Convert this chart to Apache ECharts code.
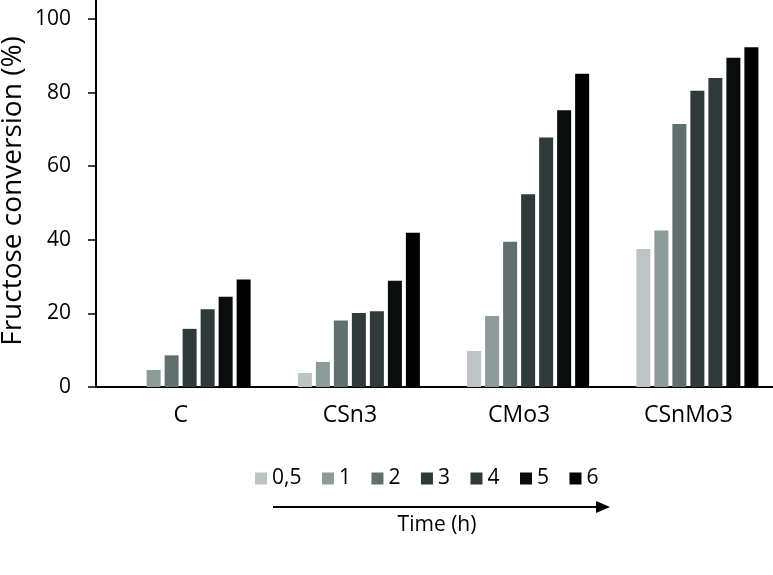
<!DOCTYPE html>
<html>
<head>
<meta charset="utf-8">
<script src="https://cdn.jsdelivr.net/npm/echarts@6/dist/echarts.min.js"></script>
<style>
html,body{margin:0;padding:0;background:#fff;}
#chart{width:773px;height:575px;}
</style>
</head>
<body>
<div id="chart"></div>
<script>
const categories = ['C', 'CSn3', 'CMo3', 'CSnMo3'];
const seriesNames = ['0,5', '1', '2', '3', '4', '5', '6'];
const s05 = [0, 3.8, 9.8, 37.5];
const s1 = [4.6, 6.8, 19.3, 42.5];
const s2 = [8.6, 18.1, 39.5, 71.5];
const s3 = [15.8, 20.1, 52.4, 80.5];
const s4 = [21.1, 20.6, 67.8, 84.0];
const s5 = [24.5, 28.9, 75.2, 89.5];
const s6 = [29.2, 41.9, 85.1, 92.3];
const s0 = [0, 0, 0, 0]; // empty leading series (t = 0)
const yTicks = [0, 20, 40, 60, 80, 100];

const colors = ['#bcc5c3', '#8c9a98', '#5f706f', '#2e3b3a', '#2e3b3a', '#0a0d0b', '#000000'];
const values = [s05, s1, s2, s3, s4, s5, s6];
const FONT = 'Open Sans';

const series = [{
  name: '0', type: 'bar', data: s0, barWidth: 14, barGap: '28.6%',
  itemStyle: { color: 'rgba(0,0,0,0)' }, silent: true
}].concat(values.map((v, i) => ({
  name: seriesNames[i], type: 'bar', data: v, barWidth: 14, barGap: '28.6%',
  itemStyle: { color: colors[i] }
})));

const chart = echarts.init(document.getElementById('chart'));
chart.setOption({
  animation: false,
  backgroundColor: '#fff',
  grid: { left: 96, right: 0, top: 19, bottom: 188, containLabel: false },
  xAxis: {
    type: 'category', data: categories,
    axisLine: { lineStyle: { color: '#000', width: 2 } },
    axisTick: { show: false },
    axisLabel: { color: '#000', fontFamily: FONT, fontSize: 23, margin: 17 }
  },
  yAxis: {
    type: 'value', min: yTicks[0], max: yTicks[yTicks.length - 1], interval: 20,
    splitLine: { show: false },
    axisLine: { show: true, lineStyle: { color: '#000', width: 2 } },
    axisTick: { show: true, length: 8, lineStyle: { color: '#000', width: 1.5 } },
    axisLabel: { color: '#000', fontFamily: FONT, fontSize: 21, margin: 25 }
  },
  legend: {
    data: seriesNames, left: 250, top: 463, itemWidth: 12, itemHeight: 12, itemGap: 20.5,
    icon: 'rect', textStyle: { color: '#000', fontFamily: FONT, fontSize: 21 }
  },
  graphic: [
    { type: 'line', shape: { x1: 96, y1: 0, x2: 96, y2: 19 }, style: { stroke: '#000', lineWidth: 2 } },
    { type: 'text', x: 13, y: 191, rotation: Math.PI / 2,
      style: { text: 'Fructose conversion (%)', fill: '#000', font: '28px "Open Sans"', align: 'center', verticalAlign: 'middle' } },
    { type: 'line', shape: { x1: 273, y1: 507, x2: 598, y2: 507 }, style: { stroke: '#000', lineWidth: 2 } },
    { type: 'polygon', shape: { points: [[596, 501], [610, 507], [596, 513]] }, style: { fill: '#000' } },
    { type: 'text', x: 437, y: 525,
      style: { text: 'Time (h)', fill: '#000', font: '21px "Open Sans"', align: 'center', verticalAlign: 'middle' } }
  ],
  series: series
});
</script>
</body>
</html>
